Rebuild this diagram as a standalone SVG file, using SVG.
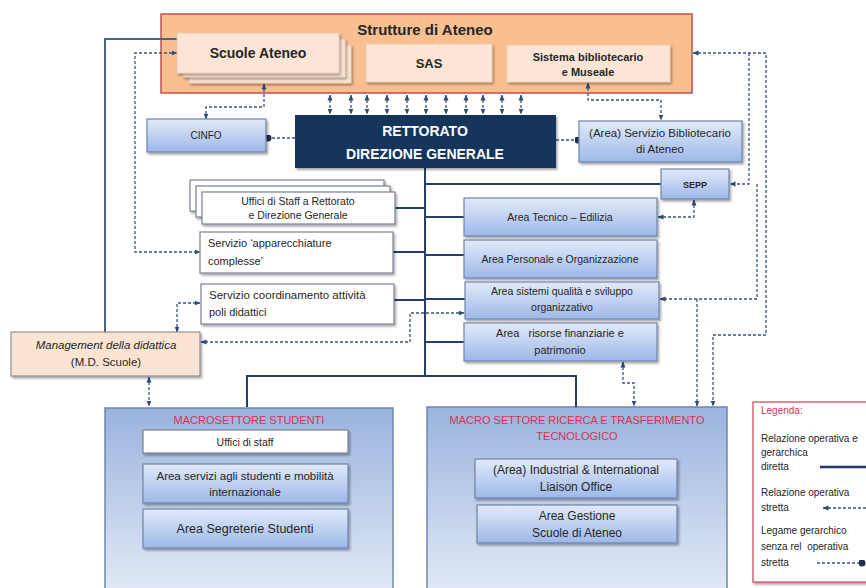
<svg xmlns="http://www.w3.org/2000/svg" width="866" height="588" viewBox="0 0 866 588">
<defs>
<style>
.t{font-family:"Liberation Sans",Arial,sans-serif;fill:#262626;font-size:11px;text-anchor:middle}
.tl{text-anchor:start}
.b{font-weight:bold}
.red{fill:#D9324A}
.wh{fill:#FFFFFF;font-weight:bold;font-size:14px}
.blue{fill:url(#gb);stroke:#6F84A8;stroke-width:1.2;filter:url(#sh)}
.white{fill:#FFFFFF;stroke:#7A8290;stroke-width:1.2;filter:url(#sh)}
.peach{fill:#FCE5D4;stroke:#E8C9B2;stroke-width:0.8;filter:url(#sh)}
.macro{fill:url(#gm);stroke:#6F87AE;stroke-width:1.5}
.solid{stroke:#243F6A;stroke-width:2;fill:none}
.solid2{stroke:#4A6289;stroke-width:2;fill:none}
.dash{stroke:#3E5378;stroke-width:1.3;stroke-dasharray:3 2;fill:none}
</style>
<linearGradient id="gb" x1="0" y1="0" x2="0" y2="1"><stop offset="0" stop-color="#E2EAF9"/><stop offset="1" stop-color="#9DB8E8"/></linearGradient>
<linearGradient id="gm" x1="0" y1="0" x2="0" y2="1"><stop offset="0" stop-color="#9AB3DE"/><stop offset="1" stop-color="#E4EBF6"/></linearGradient>
<filter id="sh" x="-10%" y="-10%" width="130%" height="150%"><feDropShadow dx="1.5" dy="2" stdDeviation="1.2" flood-color="#000" flood-opacity="0.35"/></filter>
<marker id="ar" viewBox="0 0 6 6" refX="5.5" refY="3" markerWidth="6" markerHeight="6" markerUnits="userSpaceOnUse" orient="auto-start-reverse"><path d="M0,0.5L6,3L0,5.5z" fill="#2F4A72"/></marker>
<marker id="dot" viewBox="0 0 6 6" refX="3" refY="3" markerWidth="7" markerHeight="7" markerUnits="userSpaceOnUse"><circle cx="3" cy="3" r="3" fill="#1F2F4F"/></marker>
</defs>
<rect width="866" height="588" fill="#FFFFFF"/>

<!-- big containers -->
<g id="strutture">
<rect x="161" y="14" width="531" height="79" fill="#F9BF90" stroke="#C0504D" stroke-width="1.5"/>
<text class="t b" x="425" y="35" style="font-size:15px">Strutture  di Ateneo</text>
</g>
<g id="macro-studenti">
<rect class="macro" x="105" y="408" width="288" height="190"/>
<text class="t red" x="249" y="424">MACROSETTORE STUDENTI</text>
</g>
<g id="macro-ricerca">
<rect class="macro" x="427" y="407" width="300" height="191"/>
<text class="t red" x="577" y="424">MACRO SETTORE RICERCA E TRASFERIMENTO</text>
<text class="t red" x="577" y="440">TECNOLOGICO</text>
</g>

<!-- connectors -->
<g id="connectors">
<path class="solid" d="M425,168V376"/>
<path class="solid" d="M425,184H661"/>
<path class="solid" d="M425,217H464"/>
<path class="solid" d="M425,255H464"/>
<path class="solid" d="M425,299H465"/>
<path class="solid" d="M425,342H464"/>
<path class="solid" d="M395,208H425"/>
<path class="solid" d="M393,252H425"/>
<path class="solid" d="M394,300H425"/>
<path class="solid" d="M247,407V376H576V407"/>
<path class="solid2" d="M177,39H105V332"/>
<g class="dash" marker-start="url(#ar)" marker-end="url(#ar)">
<line x1="330" y1="95" x2="330" y2="114"/>
<line x1="351" y1="95" x2="351" y2="114"/>
<line x1="367" y1="95" x2="367" y2="114"/>
<line x1="387" y1="95" x2="387" y2="114"/>
<line x1="407" y1="95" x2="407" y2="114"/>
<line x1="426" y1="95" x2="426" y2="114"/>
<line x1="446" y1="95" x2="446" y2="114"/>
<line x1="466" y1="95" x2="466" y2="114"/>
<line x1="483" y1="95" x2="483" y2="114"/>
<line x1="502" y1="95" x2="502" y2="114"/>
<line x1="521" y1="95" x2="521" y2="114"/>
</g>
<path class="dash" d="M264,84V107H206V119" marker-start="url(#ar)" marker-end="url(#ar)"/>
<path class="dash" d="M588,83V100H661V120" marker-start="url(#ar)" marker-end="url(#ar)"/>
<path class="dash" d="M295,138H268" marker-end="url(#dot)"/>
<path class="dash" d="M556,140H578" marker-end="url(#dot)"/>
<path class="dash" d="M177,53H135V252H200" marker-start="url(#ar)" marker-end="url(#ar)"/>
<path class="dash" d="M177,332V303H200" marker-start="url(#ar)" marker-end="url(#ar)"/>
<path class="dash" d="M464,313H410V342H201" marker-start="url(#ar)" marker-end="url(#ar)"/>
<path class="dash" d="M149,377V406" marker-start="url(#ar)" marker-end="url(#ar)"/>
<path class="dash" d="M623,362V383H634V406" marker-start="url(#ar)" marker-end="url(#ar)"/>
<path class="dash" d="M694,200V217H658" marker-start="url(#ar)" marker-end="url(#ar)"/>
<path class="dash" d="M693,53H766V335H713V406" marker-start="url(#ar)" marker-end="url(#ar)"/>
<path class="dash" d="M749,53V184H730" marker-end="url(#ar)"/>
<path class="dash" d="M757,184V299H660" marker-end="url(#ar)"/>
<path class="dash" d="M697,299V406" marker-end="url(#ar)"/>
</g>

<!-- nodes -->
<g id="scuole-ateneo">
<rect class="peach" x="189" y="45" width="162" height="38"/>
<rect class="peach" x="183" y="39" width="162" height="38"/>
<rect class="peach" x="177" y="33" width="162" height="40"/>
<text class="t b" x="258" y="58" style="font-size:14px">Scuole Ateneo</text>
</g>
<g id="sas">
<rect class="peach" x="366" y="44" width="126" height="38"/>
<text class="t b" x="429" y="68" style="font-size:13px">SAS</text>
</g>
<g id="sistema-bibliotecario">
<rect class="peach" x="507" y="45" width="163" height="37"/>
<text class="t b" x="588" y="61">Sistema bibliotecario</text>
<text class="t b" x="588" y="76">e Museale</text>
</g>
<g id="rettorato">
<rect x="295" y="115" width="261" height="53" fill="#17365D" filter="url(#sh)"/>
<text class="t wh" x="425" y="136">RETTORATO</text>
<text class="t wh" x="425" y="159">DIREZIONE GENERALE</text>
</g>
<g id="cinfo">
<rect class="blue" x="147" y="119" width="119" height="33"/>
<text class="t" x="206" y="139" style="font-size:10px">CINFO</text>
</g>
<g id="servizio-bibliotecario">
<rect class="blue" x="579" y="121" width="163" height="41"/>
<text class="t" x="660" y="137" style="font-size:11.5px">(Area) Servizio  Bibliotecario</text>
<text class="t" x="660" y="153" style="font-size:11.5px">di Ateneo</text>
</g>
<g id="sepp">
<rect class="blue" x="661" y="169" width="68" height="30"/>
<text class="t b" x="695" y="188" style="font-size:9px">SEPP</text>
</g>
<g id="uffici-staff-rettorato">
<rect class="white" x="190" y="180" width="194" height="31"/>
<rect class="white" x="196" y="186" width="194" height="31"/>
<rect class="white" x="202" y="192" width="193" height="32"/>
<text class="t" x="298" y="205" style="font-size:10.5px">Uffici di Staff a Rettorato</text>
<text class="t" x="298" y="219" style="font-size:10.5px">e Direzione Generale</text>
</g>
<g id="servizio-apparecchiature">
<rect class="white" x="200" y="232" width="193" height="41"/>
<text class="t tl" x="208" y="247">Servizio ‘apparecchiature</text>
<text class="t tl" x="208" y="265">complesse’</text>
</g>
<g id="servizio-coordinamento">
<rect class="white" x="201" y="284" width="193" height="40"/>
<text class="t tl" x="209" y="299" style="font-size:11.5px">Servizio coordinamento  attività</text>
<text class="t tl" x="209" y="316">poli didattici</text>
</g>
<g id="management-didattica">
<rect x="11" y="332" width="189" height="44" fill="#FCE4D2" stroke="#7F7F7F" stroke-width="1" filter="url(#sh)"/>
<text class="t" x="106" y="349" style="font-size:11.5px;font-style:italic">Management della didattica</text>
<text class="t" x="106" y="366" style="font-size:11.5px">(M.D. Scuole)</text>
</g>
<g id="area-tecnico">
<rect class="blue" x="464" y="198" width="193" height="38"/>
<text class="t" x="560" y="221" style="font-size:10.5px">Area Tecnico – Edilizia</text>
</g>
<g id="area-personale">
<rect class="blue" x="464" y="240" width="193" height="38"/>
<text class="t" x="560" y="263" style="font-size:10.5px">Area Personale e Organizzazione</text>
</g>
<g id="area-qualita">
<rect class="blue" x="465" y="282" width="194" height="37"/>
<text class="t" x="562" y="295" style="font-size:10.5px">Area sistemi qualità e sviluppo</text>
<text class="t" x="562" y="311" style="font-size:10.5px">organizzativo</text>
</g>
<g id="area-risorse">
<rect class="blue" x="464" y="323" width="193" height="38"/>
<text class="t" x="560" y="337" style="font-size:11px" xml:space="preserve">Area   risorse finanziarie e</text>
<text class="t" x="560" y="354" style="font-size:11px">patrimonio</text>
</g>
<g id="uffici-staff-studenti">
<rect class="white" x="143" y="430" width="205" height="23"/>
<text class="t" x="245" y="446" style="font-size:10.5px">Uffici di staff</text>
</g>
<g id="area-servizi-studenti">
<rect class="blue" x="143" y="464" width="205" height="39"/>
<text class="t" x="245" y="480" style="font-size:11.5px">Area servizi  agli studenti e mobilità</text>
<text class="t" x="245" y="496" style="font-size:11.5px">internazionale</text>
</g>
<g id="area-segreterie">
<rect class="blue" x="143" y="509" width="205" height="39"/>
<text class="t" x="245" y="533" style="font-size:12.5px">Area Segreterie Studenti</text>
</g>
<g id="area-industrial">
<rect class="blue" x="475" y="459" width="202" height="39"/>
<text class="t" x="576" y="474" style="font-size:12px">(Area) Industrial &amp; International</text>
<text class="t" x="576" y="491" style="font-size:12px">Liaison Office</text>
</g>
<g id="area-gestione-scuole">
<rect class="blue" x="477" y="505" width="200" height="38"/>
<text class="t" x="577" y="520" style="font-size:12px">Area Gestione</text>
<text class="t" x="577" y="537" style="font-size:12px">Scuole di Ateneo</text>
</g>

<g id="legenda">
<rect x="753" y="402" width="120" height="180" fill="#FFFFFF" stroke="#D0505A" stroke-width="1.3" filter="url(#sh)"/>
<text class="t tl red" x="761" y="414" style="font-size:10px">Legenda:</text>
<text class="t tl" x="761" y="442" style="font-size:10px">Relazione operativa e</text>
<text class="t tl" x="761" y="456" style="font-size:10px">gerarchica</text>
<text class="t tl" x="761" y="470" style="font-size:10px">diretta</text>
<line x1="820" y1="467" x2="866" y2="467" stroke="#1F3864" stroke-width="2.5"/>
<text class="t tl" x="761" y="496" style="font-size:10px">Relazione operativa</text>
<text class="t tl" x="761" y="511" style="font-size:10px">stretta</text>
<line class="dash" x1="823" y1="508" x2="866" y2="508" marker-start="url(#ar)"/>
<text class="t tl" x="761" y="534" style="font-size:10px">Legame gerarchico</text>
<text class="t tl" x="761" y="550" style="font-size:10px" xml:space="preserve">senza rel  operativa</text>
<text class="t tl" x="761" y="566" style="font-size:10px">stretta</text>
<line class="dash" x1="817" y1="563" x2="862" y2="563" marker-end="url(#dot)"/>
</g>
</svg>
